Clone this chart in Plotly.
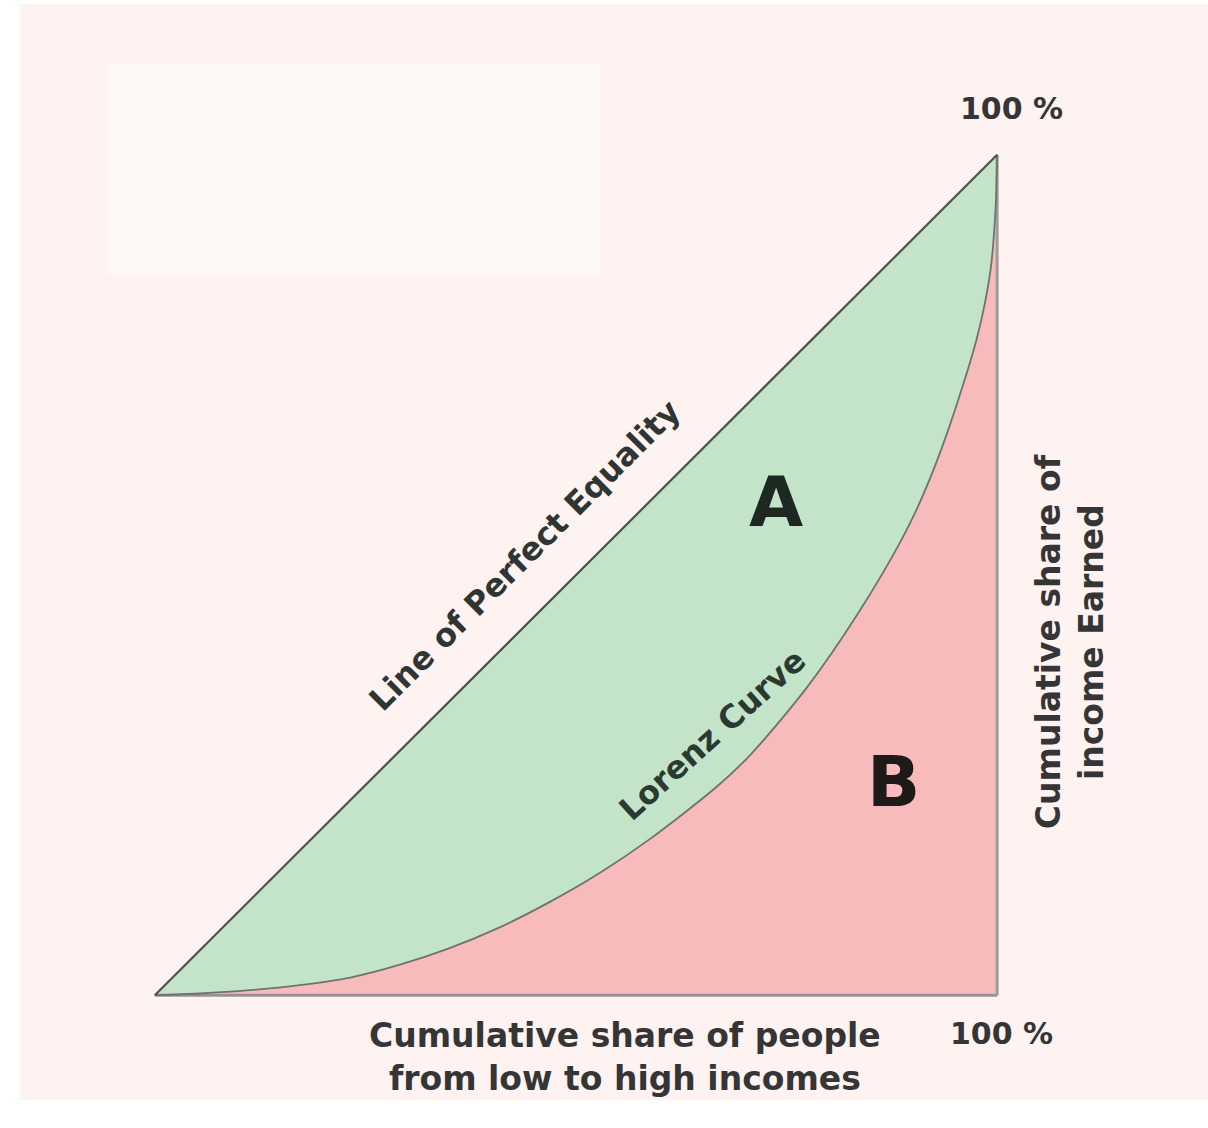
import plotly.graph_objects as go

# ---- data ----
lorenz_x = [0, 0.053, 0.113, 0.172, 0.232, 0.29, 0.350, 0.410, 0.469, 0.529, 0.588,
            0.667, 0.707, 0.774, 0.834, 0.887, 0.912, 0.941, 0.976, 0.992, 0.998, 1.0]
lorenz_y = [0, 0.002, 0.006, 0.012, 0.021, 0.036, 0.056, 0.081, 0.111, 0.146, 0.186,
            0.248, 0.286, 0.366, 0.453, 0.543, 0.595, 0.670, 0.782, 0.862, 0.934, 1.0]
equality_x = [0, 1]
equality_y = [0, 1]

x_title = "Cumulative share of people<br>from low to high incomes"
y_title = "Cumulative share of<br>income Earned"
end_label = "100 %"

BG = "#FEF3F1"
GREEN = "#C4E4CA"
PINK = "#F8BBBB"
FONT = "DejaVu Sans"

fig = go.Figure()

# green area A: between equality line and lorenz curve
fig.add_trace(go.Scatter(
    x=equality_x + lorenz_x[::-1], y=equality_y + lorenz_y[::-1],
    fill="toself", fillcolor=GREEN, mode="lines", line=dict(width=0),
    hoverinfo="skip", showlegend=False))

# pink area B: under the lorenz curve
fig.add_trace(go.Scatter(
    x=lorenz_x + [equality_x[1], equality_x[0]], y=lorenz_y + [equality_y[0], equality_y[0]],
    fill="toself", fillcolor=PINK, mode="lines", line=dict(width=0),
    hoverinfo="skip", showlegend=False))

# bottom and right edges
fig.add_trace(go.Scatter(
    x=[equality_x[0], equality_x[1]], y=[equality_y[0], equality_y[0]],
    mode="lines", line=dict(color="#9b9099", width=3), hoverinfo="skip", showlegend=False))
fig.add_trace(go.Scatter(
    x=[equality_x[1], equality_x[1]], y=[equality_y[0], equality_y[1]],
    mode="lines", line=dict(color="#9c9c9e", width=3), hoverinfo="skip", showlegend=False))

# lorenz curve
fig.add_trace(go.Scatter(
    x=lorenz_x, y=lorenz_y, mode="lines",
    line=dict(color="#6f736e", width=1.8, shape="spline", smoothing=0.8),
    hoverinfo="skip", showlegend=False))

# equality line
fig.add_trace(go.Scatter(
    x=equality_x, y=equality_y, mode="lines", line=dict(color="#4d524f", width=2.2),
    hoverinfo="skip", showlegend=False))

# geometry: X=0 at px 155, X=1 at px 997; Y=0 at px 995, Y=1 at px 155
W, H = 1208, 1128
pad = 0.02
ux, uy = 842, 840
left = 155 - pad * ux
top = 155 - pad * uy
pw = (1 + 2 * pad) * ux
ph = (1 + 2 * pad) * uy
right = W - left - pw
bottom = H - top - ph


def pxp(px):
    return (px - left) / pw


def pyp(py):
    return (H - bottom - py) / ph


def txt(px, py, text, size, color="#353535", angle=0):
    return dict(x=pxp(px), y=pyp(py), xref="paper", yref="paper", text=text,
                textangle=angle, showarrow=False, xanchor="center", yanchor="middle",
                font=dict(size=size, color=color, family=FONT, weight=700))


annotations = [
    txt(525, 555, "Line of Perfect Equality", 32, "#2f3532", -45),
    txt(712, 735, "Lorenz Curve", 32, "#2b3a31", -42),
    txt(776, 502, "A", 70, "#1e2822"),
    txt(893, 782, "B", 70, "#1e1a1a"),
    txt(1011, 109, end_label, 30),
    txt(1001, 1033, end_label, 30),
    txt(625, 1057, x_title, 33),
    txt(1070, 642, y_title, 33, angle=-90),
]

fig.update_layout(
    width=W, height=H,
    margin=dict(l=left, r=right, t=top, b=bottom, pad=0),
    paper_bgcolor="#FFFFFF", plot_bgcolor="rgba(0,0,0,0)",
    xaxis=dict(range=[-pad, 1 + pad], visible=False, fixedrange=True),
    yaxis=dict(range=[-pad, 1 + pad], visible=False, fixedrange=True),
    annotations=annotations,
    shapes=[
        dict(type="rect", xref="paper", yref="paper", layer="below",
             x0=pxp(20), x1=pxp(1208), y0=pyp(1100), y1=pyp(4),
             fillcolor=BG, line=dict(width=0)),
        dict(type="rect", xref="paper", yref="paper", layer="below",
             x0=pxp(108), x1=pxp(600), y0=pyp(275), y1=pyp(63),
             fillcolor="#FEF8F4", line=dict(width=0)),
    ],
    showlegend=False,
)

fig.write_html("out.html", config={"displayModeBar": False},
               post_script="document.body.style.margin='0px';document.body.style.overflow='hidden';")
